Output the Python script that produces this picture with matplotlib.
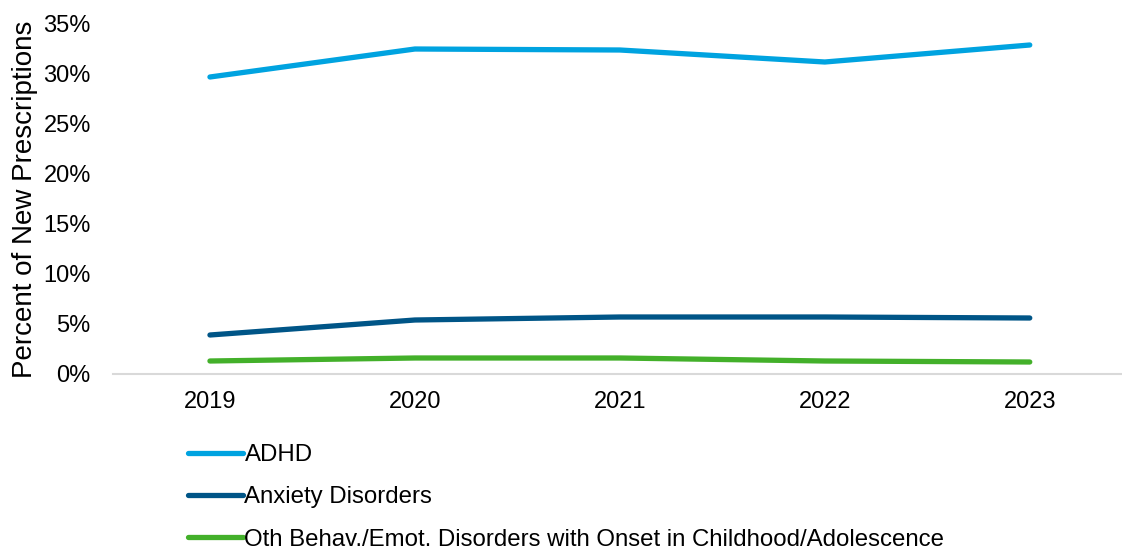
import matplotlib
matplotlib.use("Agg")
import matplotlib.pyplot as plt
from matplotlib.ticker import PercentFormatter

plt.rcParams['font.family'] = ['Liberation Sans', 'DejaVu Sans']

years = ['2019', '2020', '2021', '2022', '2023']
adhd = [29.7, 32.5, 32.4, 31.2, 32.9]
anxiety = [3.9, 5.4, 5.7, 5.7, 5.6]
other = [1.3, 1.6, 1.6, 1.3, 1.2]
labels = ['ADHD', 'Anxiety Disorders',
          'Oth Behav./Emot. Disorders with Onset in Childhood/Adolescence']
colors = ['#00A3E0', '#005587', '#43B02A']

W, H = 1122, 549
fig = plt.figure(figsize=(W / 100, H / 100), dpi=100)
ax = fig.add_axes([113 / W, (H - 374) / H, (1122 - 113) / W, (374 - 24) / H])

x = range(len(years))
for vals, lab, c in zip([adhd, anxiety, other], labels, colors):
    ax.plot(x, vals, color=c, lw=3.8, solid_capstyle='round',
            solid_joinstyle='round', label=lab)

ax.set_xlim(-0.473, 4.45)
ax.set_ylim(0, 35)
ax.set_yticks(range(0, 36, 5))
ax.yaxis.set_major_formatter(PercentFormatter(decimals=0))
ax.set_xticks(list(x))
ax.set_xticklabels(years)
ax.tick_params(axis='both', length=0, labelsize=17, colors='#000000')
ax.tick_params(axis='x', pad=12.5)
ax.tick_params(axis='y', pad=16)
for s in ['top', 'right', 'left']:
    ax.spines[s].set_visible(False)
ax.spines['bottom'].set_color('#D9D9D9')
ax.spines['bottom'].set_linewidth(1.5)
ax.set_ylabel('Percent of New Prescriptions', fontsize=20, labelpad=4)

fig.legend(loc='upper left', bbox_to_anchor=(188 / W, (H - 444) / H),
           frameon=False, fontsize=17.3, handlelength=2.3, handletextpad=0.05,
           labelspacing=0.85, borderaxespad=0, borderpad=0)

fig.savefig('out.png', dpi=100)
